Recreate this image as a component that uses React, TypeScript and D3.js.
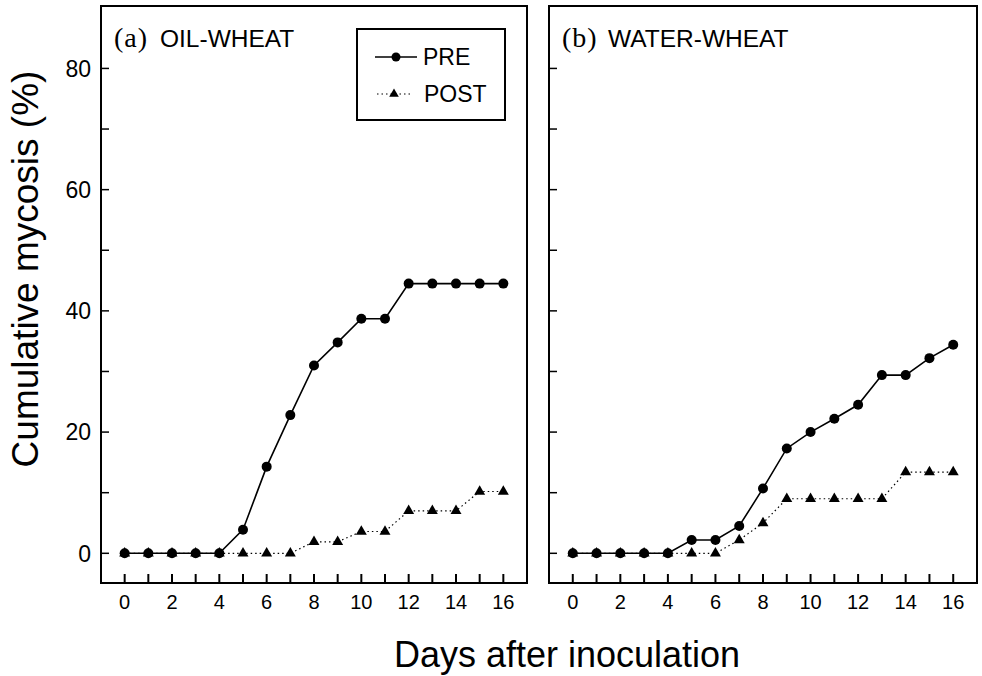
import React from "react";
import * as d3 from "d3";

const days = [0, 1, 2, 3, 4, 5, 6, 7, 8, 9, 10, 11, 12, 13, 14, 15, 16];
const oilPre = [0, 0, 0, 0, 0, 3.9, 14.3, 22.8, 31.0, 34.8, 38.7, 38.7, 44.5, 44.5, 44.5, 44.5, 44.5];
const oilPost = [0, 0, 0, 0, 0, 0, 0, 0, 1.9, 1.9, 3.6, 3.6, 7.0, 7.0, 7.0, 10.2, 10.2];
const waterPre = [0, 0, 0, 0, 0, 2.2, 2.2, 4.5, 10.7, 17.3, 20.0, 22.2, 24.5, 29.4, 29.4, 32.2, 34.4];
const waterPost = [0, 0, 0, 0, 0, 0, 0, 2.2, 5.0, 9.0, 9.0, 9.0, 9.0, 9.0, 13.4, 13.4, 13.4];
const yTickValues = [0, 10, 20, 30, 40, 50, 60, 70, 80];
const yLabelValues = [0, 20, 40, 60, 80];
const xLabelValues = [0, 2, 4, 6, 8, 10, 12, 14, 16];

const SANS = "'Liberation Sans', Arial, Helvetica, sans-serif";
const SERIF = "'Liberation Serif', 'Times New Roman', serif";

type PanelProps = {
  x0: number;
  x1: number;
  letter: string;
  name: string;
  pre: number[];
  post: number[];
  showYLabels: boolean;
  legend: boolean;
};

const yScale = d3.scaleLinear().domain([-4.9, 90.3]).range([583, 6]);

function Panel({ x0, x1, letter, name, pre, post, showYLabels, legend }: PanelProps) {
  const x = d3.scaleLinear().domain([-1, 17]).range([x0, x1]);
  const y = yScale;
  const line = d3
    .line<number>()
    .x((_, i) => x(days[i]))
    .y((d) => y(d));
  const tri = d3.symbol().type(d3.symbolTriangle).size(52)() as string;
  const top = y(90.3);
  const bottom = y(-4.9);
  return (
    <g>
      <rect x={x0} y={top} width={x1 - x0} height={bottom - top} fill="none" stroke="#000" strokeWidth={2} />
      {days.map((d) => (
        <line key={"xt" + d} x1={x(d)} x2={x(d)} y1={bottom} y2={bottom - 9} stroke="#000" strokeWidth={2} />
      ))}
      {xLabelValues.map((d) => (
        <text key={"xl" + d} x={x(d)} y={609} textAnchor="middle" fontFamily={SANS} fontSize={20} fill="#000">
          {d}
        </text>
      ))}
      {yTickValues.map((v) => (
        <line key={"yt" + v} x1={x0} x2={x0 + 8} y1={y(v)} y2={y(v)} stroke="#000" strokeWidth={1.5} />
      ))}
      {showYLabels &&
        yLabelValues.map((v) => (
          <text key={"yl" + v} x={x0 - 10} y={y(v)} dy="0.36em" textAnchor="end" fontFamily={SANS} fontSize={23} fill="#000">
            {v}
          </text>
        ))}
      <text x={x0 + 13} y={47} fontFamily={SERIF} fontSize={28} letterSpacing={1} fill="#000">
        {"(" + letter + ")"}
      </text>
      <text x={x0 + 59} y={47} fontFamily={SANS} fontSize={24.5} fill="#000">
        {name}
      </text>
      <path d={line(post) || ""} fill="none" stroke="#000" strokeWidth={1.2} strokeDasharray="1.5,3" />
      <path d={line(pre) || ""} fill="none" stroke="#000" strokeWidth={1.6} />
      {post.map((v, i) => (
        <path key={"pt" + i} d={tri} transform={`translate(${x(days[i])},${y(v)})`} fill="#000" />
      ))}
      {pre.map((v, i) => (
        <circle key={"pc" + i} cx={x(days[i])} cy={y(v)} r={5} fill="#000" />
      ))}
      {legend && (
        <g>
          <rect x={357} y={29} width={148} height={91} fill="#fff" stroke="#000" strokeWidth={2} />
          <line x1={375} x2={417} y1={57} y2={57} stroke="#000" strokeWidth={1.6} />
          <circle cx={396} cy={57} r={4.5} fill="#000" />
          <text x={423} y={57} dy="0.36em" fontFamily={SANS} fontSize={23} fill="#000">
            PRE
          </text>
          <line x1={377} x2={413} y1={94} y2={94} stroke="#000" strokeWidth={1.2} strokeDasharray="1.5,3" />
          <path d={d3.symbol().type(d3.symbolTriangle).size(40)() as string} transform="translate(394,94)" fill="#000" />
          <text x={424} y={94} dy="0.36em" fontFamily={SANS} fontSize={23} fill="#000">
            POST
          </text>
        </g>
      )}
    </g>
  );
}

export default function App() {
  return (
    <svg width={982} height={676} style={{ position: "absolute", left: 0, top: 0, background: "#fff" }}>
      <rect width={982} height={676} fill="#fff" />
      <Panel x0={101} x1={527} letter="a" name="OIL-WHEAT" pre={oilPre} post={oilPost} showYLabels={true} legend={true} />
      <Panel x0={549} x1={977} letter="b" name="WATER-WHEAT" pre={waterPre} post={waterPost} showYLabels={false} legend={false} />
      <text
        transform="translate(38,269) rotate(-90)"
        textAnchor="middle"
        fontFamily={SANS}
        fontSize={37}
        fill="#000"
      >
        Cumulative mycosis (%)
      </text>
      <text x={567} y={667} textAnchor="middle" fontFamily={SANS} fontSize={36} fill="#000">
        Days after inoculation
      </text>
    </svg>
  );
}
